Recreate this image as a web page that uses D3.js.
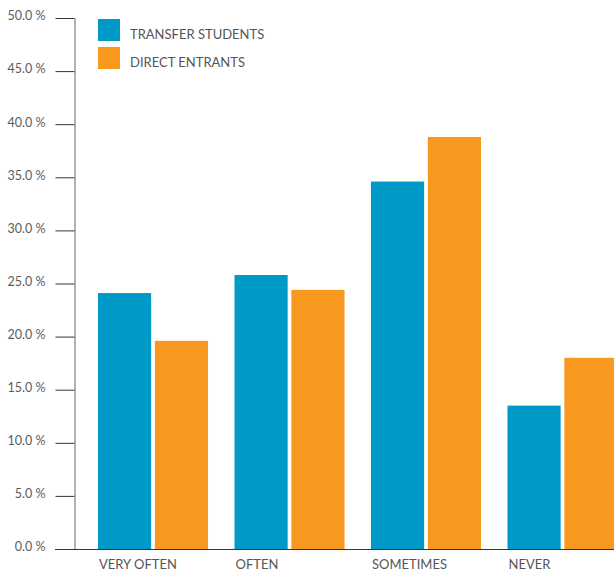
<!DOCTYPE html>
<html>
<head>
<meta charset="utf-8">
<script src="https://cdn.jsdelivr.net/npm/d3@7"></script>
<style>
  body { margin: 0; background: #fff; }
  text { font-family: Lato, "Open Sans", sans-serif; }
</style>
</head>
<body>
<div class="chart"></div>
<script>
// data
var categories = ["VERY OFTEN", "OFTEN", "SOMETIMES", "NEVER"];
var seriesNames = ["TRANSFER STUDENTS", "DIRECT ENTRANTS"];
var transferStudents = [24.1, 25.8, 34.6, 13.5];
var directEntrants = [19.6, 24.4, 38.8, 18.0];
var yTicks = [0, 5, 10, 15, 20, 25, 30, 35, 40, 45, 50];
var colors = ["#009ac8", "#f8981f"];

var width = 614, height = 571;

var rows = categories.map(function(c, i) {
  return { cat: c, values: [transferStudents[i], directEntrants[i]] };
});

var svg = d3.select(".chart").append("svg")
  .attr("width", width)
  .attr("height", height);

var y = d3.scaleLinear().domain([0, 50]).range([549, 18]);

var x0 = d3.scaleBand()
  .domain(categories)
  .range([98, 617.5])
  .paddingInner(0.194)
  .paddingOuter(0);

var x1 = d3.scaleBand()
  .domain([0, 1])
  .range([0, x0.bandwidth()])
  .paddingInner(0.065);

// bars
var group = svg.selectAll(".group")
  .data(rows)
  .enter().append("g")
  .attr("class", "group")
  .attr("transform", function(d) { return "translate(" + x0(d.cat) + ",0)"; });

group.selectAll("rect")
  .data(function(d) { return d.values; })
  .enter().append("rect")
  .attr("x", function(d, i) { return x1(i); })
  .attr("y", function(d) { return y(d); })
  .attr("width", x1.bandwidth())
  .attr("height", function(d) { return y(0) - y(d); })
  .attr("fill", function(d, i) { return colors[i]; });

// y axis
var yAxis = d3.axisLeft(y)
  .tickValues(yTicks)
  .tickSizeInner(19)
  .tickSizeOuter(0)
  .tickPadding(10)
  .tickFormat(function(d) { return d3.format(".1f")(d) + " %"; });

var ya = svg.append("g")
  .attr("transform", "translate(74.5,0)")
  .call(yAxis);
ya.select(".domain").attr("stroke", "#666");
ya.selectAll(".tick line").attr("stroke", "#333");
ya.selectAll(".tick text")
  .attr("fill", "#5c5c5c")
  .attr("dy", "0.15em")
  .style("font-size", "12.5px")
  .style("font-family", "Lato, sans-serif");

// baseline
svg.append("line")
  .attr("x1", 55).attr("x2", width)
  .attr("y1", y(0) + 0.5).attr("y2", y(0) + 0.5)
  .attr("stroke", "#333");

// category labels
svg.selectAll(".cat")
  .data(categories)
  .enter().append("text")
  .attr("class", "cat")
  .attr("x", function(d) { return x0(d) + 1; })
  .attr("y", 569)
  .attr("fill", "#555")
  .style("font-size", "13px")
  .text(function(d) { return d; });

// legend
var legend = svg.selectAll(".legend")
  .data(seriesNames)
  .enter().append("g")
  .attr("class", "legend")
  .attr("transform", function(d, i) { return "translate(98," + (19 + i * 28) + ")"; });

legend.append("rect")
  .attr("width", 22).attr("height", 22)
  .attr("fill", function(d, i) { return colors[i]; });

legend.append("text")
  .attr("x", 32).attr("y", 20)
  .attr("fill", "#555")
  .style("font-size", "13px")
  .text(function(d) { return d; });
</script>
</body>
</html>
